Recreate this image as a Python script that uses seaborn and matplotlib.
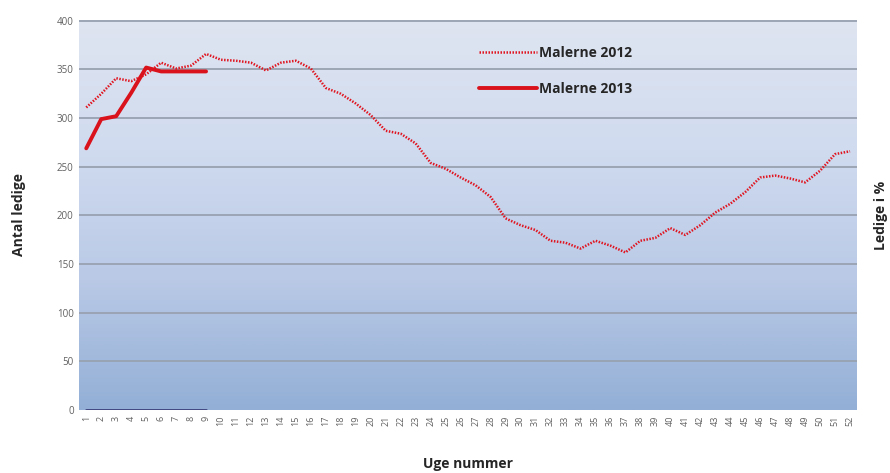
import numpy as np
import pandas as pd
import seaborn as sns
import matplotlib.pyplot as plt
from matplotlib.colors import LinearSegmentedColormap

weeks = list(range(1, 53))
malerne_2012 = [311, 325, 341, 338, 345, 357, 351, 354, 366, 360,
                359, 357, 349, 357, 359, 351, 331, 325, 315, 303,
                287, 284, 274, 254, 248, 239, 231, 219, 197, 190,
                185, 174, 172, 166, 174, 169, 162, 174, 177, 187,
                180, 190, 203, 212, 224, 239, 241, 238, 234, 246,
                263, 266]
weeks_2013 = list(range(1, 10))
malerne_2013 = [269, 299, 302, 326, 352, 348, 348, 348, 348]
ledige_pct_2013 = [0, 0, 0, 0, 0, 0, 0, 0, 0]

df12 = pd.DataFrame({'uge': weeks, 'antal': malerne_2012})
df13 = pd.DataFrame({'uge': weeks_2013, 'antal': malerne_2013})
dfpct = pd.DataFrame({'uge': weeks_2013, 'antal': ledige_pct_2013})

sns.set_style('white')
plt.rcParams['font.family'] = ['Open Sans', 'DejaVu Sans']

fig = plt.figure(figsize=(8.9, 4.73), dpi=100)
ax = fig.add_axes([0.089, 0.133, 0.874, 0.825])

# gradient background
cmap = LinearSegmentedColormap.from_list('bg', ['#93afd6', '#b9c9e6', '#d0dbef', '#dfe5f1'])
grad = np.linspace(0, 1, 256).reshape(-1, 1)
ax.imshow(grad, cmap=cmap, origin='lower', aspect='auto',
          extent=[0.53, 52.47, 0, 400], zorder=0)

for yv in range(50, 401, 50):
    ax.axhline(yv, color='#98a1b0', lw=1.3, zorder=1)

sns.lineplot(data=df12, x='uge', y='antal', ax=ax, color='#d65a70',
             linestyle=(0, (1, 1.2)), lw=2, label='Malerne 2012', zorder=3)
sns.lineplot(data=df13, x='uge', y='antal', ax=ax, color='#d9121c',
             lw=2.8, label='Malerne 2013', zorder=4)
sns.lineplot(data=dfpct, x='uge', y='antal', ax=ax, color='#3b3f7a',
             lw=2, zorder=4, legend=False)

ax.set_xlim(0.53, 52.47)
ax.set_ylim(0, 401)
ax.set_xticks(weeks)
ax.set_xticklabels([str(w) for w in weeks], rotation=90, fontsize=6.5, color='#606060')
ax.set_yticks(range(0, 401, 50))
ax.set_yticklabels([str(v) for v in range(0, 401, 50)], fontsize=7, color='#606060')
ax.tick_params(axis='both', length=0, pad=4)
for s in ax.spines.values():
    s.set_visible(False)

ax.set_xlabel('Uge nummer', fontsize=10, fontweight='bold', labelpad=22)
ax.set_ylabel('Antal ledige', fontsize=10, fontweight='bold', labelpad=22)

ax2 = ax.twinx()
ax2.set_yticks([])
for s in ax2.spines.values():
    s.set_visible(False)
ax2.set_ylabel('Ledige i %', fontsize=10, fontweight='bold', labelpad=12)

# legend
handles, labels = ax.get_legend_handles_labels()
for h in handles:
    h.set_linewidth(2.8)
handles[0].set_linestyle((0, (0.6, 0.6)))
handles[0].set_color('#e01520')
handles[0].set_linewidth(1.8)
leg = ax.legend(handles, labels, loc='upper left', bbox_to_anchor=(0.498, 0.965),
                frameon=False, handlelength=4.2, handletextpad=0.1,
                labelspacing=1.55, prop={'weight': 'bold', 'size': 10})

plt.savefig('out.png', dpi=100)
